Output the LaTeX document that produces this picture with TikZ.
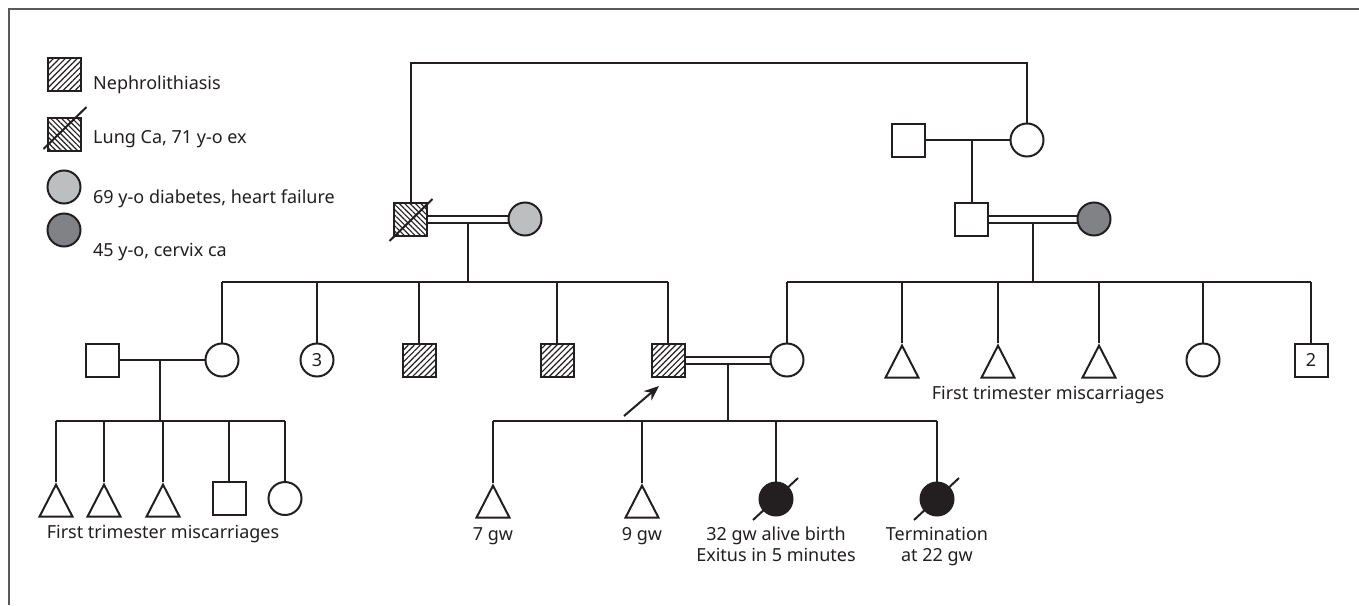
\documentclass[tikz,border=0pt]{standalone}
\usepackage{fontspec}
\setmainfont{Noto Sans}
\usetikzlibrary{shapes.geometric,patterns.meta,arrows.meta,calc}
\definecolor{ink}{HTML}{231F20}
\definecolor{lgray}{HTML}{BCBEC0}
\definecolor{dgray}{HTML}{808285}
\begin{document}
\begin{tikzpicture}[x=1pt,y=-1pt,
  ln/.style={line width=2pt,draw=ink},
  male/.style={rectangle,draw=ink,line width=2pt,minimum size=33pt,inner sep=0pt,fill=white},
  female/.style={circle,draw=ink,line width=2pt,minimum size=33pt,inner sep=0pt,fill=white},
  preg/.style={isosceles triangle,isosceles triangle stretches,shape border rotate=90,draw=ink,line width=2pt,minimum width=33pt,minimum height=32pt,inner sep=0pt,fill=white,anchor=apex},
  nephro/.style={pattern={Lines[angle=45,distance=4.2pt,line width=1.2pt]},pattern color=ink},
  lung/.style={pattern={Lines[angle=-45,distance=3.8pt,line width=1.2pt]},pattern color=ink},
  lbl/.style={font=\fontsize{18}{21}\selectfont,text=ink,inner sep=0pt},
  slash/.style={line width=2pt,draw=ink},
]
\useasboundingbox (0,0) rectangle (1359,605);
\fill[white] (0,0) rectangle (1359,605);
\draw[line width=1.4pt,draw=black!65] (9,605) -- (9,9) -- (1359,9);

% legend
\node[male,nephro] (L1) at (64.5,74) {};
\node[lbl,anchor=base west] (T1) at (93,89) {Nephrolithiasis};
\node[male,lung] (L2) at (64.5,134) {};
\draw[slash] ([shift={(-21,15)}]L2.center) -- ([shift={(22,-27)}]L2.center);
\node[lbl,anchor=base west] (T2) at (93,143) {Lung Ca, 71 y-o ex};
\node[female,fill=lgray] (L3) at (64,187) {};
\node[lbl,anchor=base west] (T3) at (93,203) {69 y-o diabetes, heart failure};
\node[female,fill=dgray] (L4) at (64,230) {};
\node[lbl,anchor=base west] (T4) at (93,256) {45 y-o, cervix ca};

% generation I
\node[male] (ggf) at (908,140) {};
\node[female] (ggm) at (1027,140) {};
% generation II
\node[male,lung] (gf) at (410.5,219) {};
\node[female,fill=lgray] (gm) at (525,219) {};
\node[male] (mf) at (971,219) {};
\node[female,fill=dgray] (mm) at (1094,219) {};
% generation III
\node[male] (h) at (102,360) {};
\node[female] (a1) at (222,360) {};
\node[female] (a2) at (317,360) {};
\node[lbl] at (a2) {3};
\node[male,nephro] (a3) at (419,360) {};
\node[male,nephro] (a4) at (557,360) {};
\node[male,nephro] (p) at (668,360) {};
\node[female] (w) at (787,360) {};
\node[preg] (b1) at (902,343) {};
\node[preg] (b2) at (998,343) {};
\node[preg] (b3) at (1099,343) {};
\node[female] (b4) at (1203,360) {};
\node[male] (b5) at (1311,360) {};
\node[lbl] at (b5) {2};
% generation IV
\node[preg] (c1) at (56,482) {};
\node[preg] (c2) at (104,482) {};
\node[preg] (c3) at (163,482) {};
\node[male] (c4) at (229,498.5) {};
\node[female] (c5) at (285,498.5) {};
\node[preg] (d1) at (493,483) {};
\node[preg] (d2) at (642,483) {};
\node[female,fill=ink] (d3) at (776,499) {};
\node[female,fill=ink] (d4) at (937,499) {};

% slashes
\draw[slash] ([shift={(-21,22)}]gf.center) -- ([shift={(22,-20)}]gf.center);
\draw[slash] ([shift={(-23,21)}]d3.center) -- ([shift={(22,-21)}]d3.center);
\draw[slash] ([shift={(-23,21)}]d4.center) -- ([shift={(22,-21)}]d4.center);

% coordinates
\coordinate (top) at (0,63);
\coordinate (s1) at (0,282);
\coordinate (s3) at (0,421);

% connectors
\draw[ln] (gf.north) -- (gf.north |- top) -- (ggm.north |- top) -- (ggm.north);
\draw[ln] (ggf.east) -- (ggm.west);
\coordinate (ggc) at ($(ggf.east)!0.55!(ggm.west)$);
\draw[ln] (ggc) -- (ggc |- mf.north);

\draw[ln] ([yshift=3.5pt]gf.east) -- ([yshift=3.5pt]gm.west);
\draw[ln] ([yshift=-3.5pt]gf.east) -- ([yshift=-3.5pt]gm.west);
\coordinate (gc) at ($(gf.east)!0.5!(gm.west)+(0,3.5)$);
\draw[ln] (gc) -- (gc |- s1);

\draw[ln] ([yshift=3.5pt]mf.east) -- ([yshift=3.5pt]mm.west);
\draw[ln] ([yshift=-3.5pt]mf.east) -- ([yshift=-3.5pt]mm.west);
\coordinate (mc) at ($(mf.east)!0.5!(mm.west)+(0,3.5)$);
\draw[ln] (mc) -- (mc |- s1);

\draw[ln] (a1.north |- s1) -- (p.north |- s1);
\foreach \n in {a1,a2,a3,a4,p} \draw[ln] (\n.north) -- (\n.north |- s1);
\draw[ln] (w.north |- s1) -- (b5.north |- s1);
\foreach \n in {w,b1,b2,b3,b4,b5} \draw[ln] (\n.north) -- (\n.north |- s1);

\draw[ln] (h.east) -- (a1.west);
\coordinate (hc) at ($(h.east)!0.48!(a1.west)$);
\draw[ln] (hc) -- (hc |- s3);
\draw[ln] (c1.north |- s3) -- (c5.north |- s3);
\foreach \n in {c1,c2,c3,c4,c5} \draw[ln] (\n.north) -- (\n.north |- s3);

\draw[ln] ([yshift=3.5pt]p.east) -- ([yshift=3.5pt]w.west);
\draw[ln] ([yshift=-3.5pt]p.east) -- ([yshift=-3.5pt]w.west);
\coordinate (pc) at ($(p.east)!0.5!(w.west)+(0,3.5)$);
\draw[ln] (pc) -- (pc |- s3);
\draw[ln] (d1.north |- s3) -- (d4.north |- s3);
\foreach \n in {d1,d2,d3,d4} \draw[ln] (\n.north) -- (\n.north |- s3);

% proband arrow
\coordinate (arS) at (624,416);
\coordinate (arE) at (659,386);
\draw[ln,-{Stealth[length=15pt,width=12pt]}] (arS) -- (arE);

% labels
\node[lbl,anchor=base] (m1) at (163,538) {First trimester miscarriages};
\node[lbl,anchor=base] (m2) at (1048,399) {First trimester miscarriages};
\node[lbl,anchor=base] (e1) at (493,540) {7 gw};
\node[lbl,anchor=base] (e2) at (642,540) {9 gw};
\node[lbl,anchor=base] (e3a) at (776,540) {32 gw alive birth};
\node[lbl,anchor=base] (e3b) at (776,561) {Exitus in 5 minutes};
\node[lbl,anchor=base] (e4a) at (937,540) {Termination};
\node[lbl,anchor=base] (e4b) at (937,561) {at 22 gw};
\end{tikzpicture}
\end{document}
